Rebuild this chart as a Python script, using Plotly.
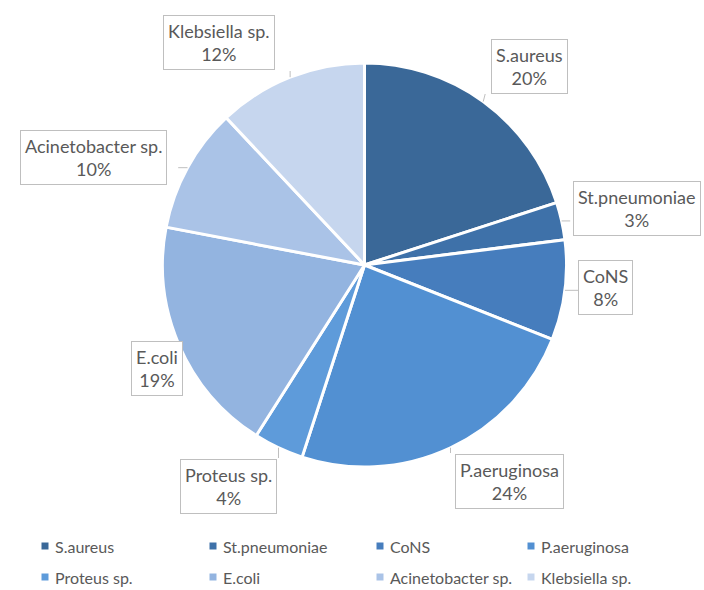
import math
import plotly.graph_objects as go

W, H = 704, 590

# Organisms and share of isolates (%)
organisms = ["S.aureus", "St.pneumoniae", "CoNS", "P.aeruginosa",
             "Proteus sp.", "E.coli", "Acinetobacter sp.", "Klebsiella sp."]
shares = [20, 3, 8, 24, 4, 19, 10, 12]
colors = ["#3A6898", "#3E71A9", "#467DBD", "#5290D2",
          "#5E9BDA", "#93B4E0", "#AAC3E7", "#C6D6EE"]

# Callout box centres (pixels from the top-left of the page)
label_pos = {
    "S.aureus": (529, 66),
    "St.pneumoniae": (637, 208),
    "CoNS": (605, 287),
    "P.aeruginosa": (509, 481),
    "Proteus sp.": (229, 486),
    "E.coli": (157, 368),
    "Acinetobacter sp.": (93, 157),
    "Klebsiella sp.": (219, 43),
}

# Legend grid: key x positions per column, y per row (pixels)
legend_cols = [45, 213, 380, 531]
legend_rows = [546, 577]

FONT = "Lato"
GREY = "#595959"

# Pie geometry in pixels
cx, cy, r = 364.5, 265.0, 202.0

fig = go.Figure()
fig.add_trace(go.Pie(
    labels=organisms, values=shares, sort=False, direction="clockwise",
    rotation=0, textinfo="none", hoverinfo="label+percent",
    marker=dict(colors=colors, line=dict(color="white", width=3)),
    domain=dict(x=[(cx - r) / W, (cx + r) / W],
                y=[(H - cy - r) / H, (H - cy + r) / H]),
    showlegend=False,
))

def px(x):
    return x / W

def py(y):
    return 1 - y / H

shapes = []
annotations = []
total = sum(shares)
cum = 0
for name, v in zip(organisms, shares):
    mid = (cum + v / 2) / total * 2 * math.pi
    cum += v
    ex = cx + r * math.sin(mid)
    ey = cy - r * math.cos(mid)
    lx, ly = label_pos[name]
    pct = round(v / total * 100)
    lines = [name, f"{pct}%"]
    hw = max(len(s) for s in lines) * 4.6 + 7
    hh = 28
    # nearest point on the callout box to the slice edge
    bx = min(max(ex, lx - hw), lx + hw)
    by = min(max(ey, ly - hh), ly + hh)
    shapes.append(dict(type="line", xref="paper", yref="paper",
                       x0=px(ex), y0=py(ey), x1=px(bx), y1=py(by),
                       line=dict(color="#BFBFBF", width=1)))
    annotations.append(dict(
        x=px(lx), y=py(ly), xref="paper", yref="paper",
        text="<br>".join(lines), showarrow=False,
        xanchor="center", yanchor="middle", align="center",
        font=dict(family=FONT, size=18, color=GREY),
        bordercolor="#BFBFBF", borderwidth=1, borderpad=4,
        bgcolor="white",
    ))

# Legend: two rows of four, small square keys
k = 3.5
for i, (name, c) in enumerate(zip(organisms, colors)):
    kx = legend_cols[i % 4]
    ky = legend_rows[i // 4]
    shapes.append(dict(type="rect", xref="paper", yref="paper",
                       x0=px(kx - k), x1=px(kx + k),
                       y0=py(ky + k), y1=py(ky - k),
                       fillcolor=c, line=dict(width=0)))
    annotations.append(dict(
        x=px(kx + 8), y=py(ky), xref="paper", yref="paper",
        text=name, showarrow=False, xanchor="left", yanchor="middle",
        font=dict(family=FONT, size=16, color=GREY),
    ))

fig.update_layout(
    width=W, height=H, margin=dict(l=0, r=0, t=0, b=0),
    paper_bgcolor="white", plot_bgcolor="white",
    showlegend=False,
    shapes=shapes, annotations=annotations,
)

fig.write_html("out.html")
